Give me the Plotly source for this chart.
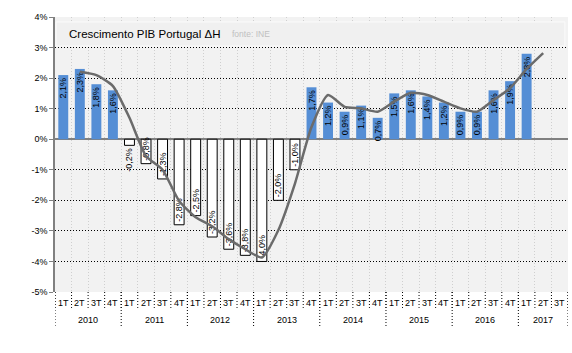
import plotly.graph_objects as go

years = ["2010", "2011", "2012", "2013", "2014", "2015", "2016", "2017"]
quarters = ["1T", "2T", "3T", "4T"]
quarters_per_year = [4, 4, 4, 4, 4, 4, 4, 3]

growth = [2.1, 2.3, 1.8, 1.6,
          -0.2, -0.8, -1.3, -2.8,
          -2.5, -3.2, -3.6, -3.8,
          -4.0, -2.0, -1.0, 1.7,
          1.2, 0.9, 1.1, 0.7,
          1.5, 1.6, 1.4, 1.2,
          0.9, 0.9, 1.6, 1.9,
          2.8, None, None]

trend = [None, 2.21, 2.10, 1.74,
         0.70, -0.55, -1.00, -2.02,
         -2.55, -2.85, -3.27, -3.60,
         -3.87, -2.97, -1.45, 0.40,
         1.45, 1.06, 1.01, 0.90,
         1.23, 1.52, 1.45, 1.23,
         1.01, 0.90, 1.28, 1.67,
         2.30, 2.82, None]

y_ticks = [4, 3, 2, 1, 0, -1, -2, -3, -4, -5]

title_text = "Crescimento PIB Portugal ΔH"
source_text = "fonte: INE"

FONT = "Liberation Sans, Arial, sans-serif"
BLUE = "#558ed5"
DOT = "1px,2px"

# category layout
cat_labels = []
for y, n in zip(years, quarters_per_year):
    for q in quarters[:n]:
        cat_labels.append(q)
n_cat = len(cat_labels)
xs = list(range(n_cat))

bar_colors = [BLUE if (v is not None and v >= 0) else "white" for v in growth]
bar_line_w = [0 if (v is not None and v >= 0) else 1 for v in growth]
bar_text = ["" if v is None else (f"{v:.1f}%".replace(".", ",")) for v in growth]
bar_pos = ["outside" if (v is not None and abs(v) < 0.5) else "inside" for v in growth]

fig = go.Figure()
fig.add_trace(go.Bar(
    x=xs, y=growth, width=0.6,
    marker=dict(color=bar_colors, line=dict(color="black", width=bar_line_w)),
    text=bar_text, textposition=bar_pos, insidetextanchor="end",
    textangle=-90, constraintext="none",
    textfont=dict(family=FONT, size=9, color="black"),
    cliponaxis=False, showlegend=False, hoverinfo="skip",
))
fig.add_trace(go.Scatter(
    x=xs, y=trend, mode="lines",
    line=dict(color="#6b6b6b", width=2.5, shape="spline", smoothing=0.6),
    connectgaps=False, showlegend=False, hoverinfo="skip",
))

shapes = []
for k in range(n_cat + 1):
    shapes.append(dict(type="line", xref="x", yref="paper", x0=k - 0.5, x1=k - 0.5,
                       y0=0, y1=-0.058, line=dict(color="black", width=1, dash=DOT)))
pos = 0
bounds = [0]
for n in quarters_per_year:
    pos += n
    bounds.append(pos)
for b in bounds:
    shapes.append(dict(type="line", xref="x", yref="paper", x0=b - 0.5, x1=b - 0.5,
                       y0=0, y1=-0.125, line=dict(color="black", width=1, dash=DOT)))
shapes.append(dict(type="rect", xref="paper", yref="paper", x0=0.002, x1=0.994,
                   y0=0.8945, y1=0.982, fillcolor="#f0f0f0",
                   line=dict(color="#fbfbfb", width=1), layer="above"))

annotations = []
for i, q in enumerate(cat_labels):
    annotations.append(dict(x=i, y=-0.04, xref="x", yref="paper", text=q, showarrow=False,
                            font=dict(family=FONT, size=9, color="black"),
                            xanchor="center", yanchor="middle"))
start = 0
for y, n in zip(years, quarters_per_year):
    cx = start + (n - 1) / 2
    annotations.append(dict(x=cx, y=-0.102, xref="x", yref="paper", text=y, showarrow=False,
                            font=dict(family=FONT, size=9, color="black"),
                            xanchor="center", yanchor="middle"))
    start += n
annotations.append(dict(x=0.0234, y=0.938, xref="paper", yref="paper", text=title_text,
                        showarrow=False, xanchor="left", yanchor="middle",
                        font=dict(family=FONT, size=11.5, color="black")))
annotations.append(dict(x=0.341, y=0.938, xref="paper", yref="paper", text=source_text,
                        showarrow=False, xanchor="left", yanchor="middle",
                        font=dict(family=FONT, size=8.5, color="#c0c0c0")))

fig.update_layout(
    width=572, height=353,
    margin=dict(l=55, r=4, t=17, b=61),
    paper_bgcolor="white", plot_bgcolor="#f2f2f2",
    shapes=shapes, annotations=annotations,
    xaxis=dict(range=[-0.5, n_cat - 0.5], tickvals=[k - 0.5 for k in range(n_cat + 1)],
               showticklabels=False, ticks="", showgrid=True, gridcolor="#cfcfcf",
               griddash=DOT, gridwidth=1, zeroline=False, showline=False, fixedrange=True),
    yaxis=dict(range=[-5, 4], tickvals=y_ticks, ticktext=[f"{v}%" for v in y_ticks],
               showgrid=True, gridcolor="black", griddash=DOT, gridwidth=1,
               zeroline=True, zerolinecolor="#808080", zerolinewidth=1.5,
               showline=True, linecolor="#808080", linewidth=1.5,
               ticks="outside", ticklen=4, tickcolor="#808080",
               tickfont=dict(family=FONT, size=9, color="black"), fixedrange=True),
    font=dict(family=FONT),
)

fig.write_html("out.html")
